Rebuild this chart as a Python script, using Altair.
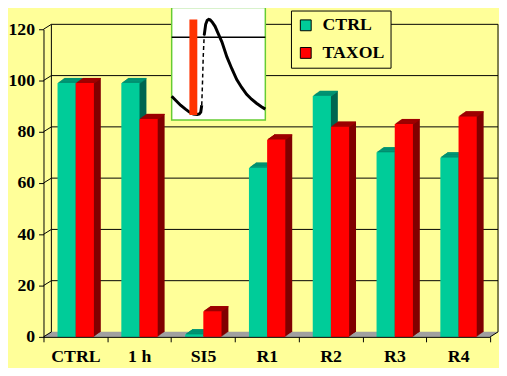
import altair as alt
import pandas as pd

# ---------------- data ----------------
categories = ["CTRL", "1 h", "SI5", "R1", "R2", "R3", "R4"]
series_names = ["CTRL", "TAXOL"]
ctrl_values = [99, 99, 1, 66, 94, 72, 70]
taxol_values = [99, 85, 10, 77, 82, 83, 86]
y_ticks = [0, 20, 40, 60, 80, 100, 120]

# inset trace (inset-local units, y downwards)
trace_a_x = [0, 4, 9, 14, 18, 22, 26, 28, 29.5, 30.5]
trace_a_y = [90, 94, 99, 103, 106, 108, 108.5, 108, 106, 99]
trace_dash_x = [30.5, 31.3, 32, 33]
trace_dash_y = [99, 75, 50, 28]
trace_b_x = [33, 34.5, 36, 37.5, 39, 41, 44, 47, 51, 56, 61, 66, 71, 76, 81, 86, 91, 95]
trace_b_y = [28, 17, 13, 12, 12.5, 14.5, 19, 26, 35, 50, 62, 73, 81, 88, 93, 97, 100.5, 103]
inset_frame = [0, 95, 0, 114]
inset_baseline = 30
stim_bar = [18, 26, 12, 109]

# ---------------- styling ----------------
W, H = 453, 312
BG = "#FFFF99"
front_colors = ["#00CC99", "#FF0000"]
side_colors = ["#006650", "#800000"]
top_colors = ["#009977", "#A00000"]
FONT = "Liberation Serif"
WALL_DX, WALL_DY = 8, 5
BAR_STEPS = 7
BAR_DY = 5 / 7
YMAX = 120

ncat = len(categories)
xs = alt.Scale(domain=[0, ncat], nice=False, zero=False)
ys = alt.Scale(domain=[0, YMAX], nice=False)

label_expr = "''"
for i in range(ncat - 1, -1, -1):
    label_expr = "datum.value == %d ? '%s' : (%s)" % (i, categories[i], label_expr)

x_axis = alt.Axis(values=list(range(ncat + 1)), labelExpr=label_expr,
                  labelOffset=W / ncat / 2, labelPadding=6, labelFlush=False,
                  labelOverlap=False, title=None, zindex=1)
y_axis = alt.Axis(values=y_ticks, labelPadding=4, title=None, zindex=1)


def X(f):
    return alt.X(f, type="quantitative", scale=xs, axis=x_axis)


def Y(f):
    return alt.Y(f, type="quantitative", scale=ys, axis=y_axis)


rows = []
for i, c in enumerate(categories):
    for s, vals, off in (("CTRL", ctrl_values, 0.22), ("TAXOL", taxol_values, 0.505)):
        rows.append(dict(cat=c, series=s, x0=i + off, x1=i + off + 0.285, base=0, value=vals[i]))
bars = pd.DataFrame(rows)

grid_df = pd.DataFrame({"v": y_ticks, "xa": 0, "xb": ncat})
vert_df = pd.DataFrame({"xp": [0, ncat], "ya": 0, "yb": YMAX})
floor_df = pd.DataFrame({"xa": [0], "xb": [ncat], "v": [0]})

layers = []

# guide carrier (axes + legend), invisible
layers.append(
    alt.Chart(bars).mark_rect(opacity=0)
    .encode(
        x=X("x0"), x2="x1:Q", y=Y("base"), y2="value:Q",
        color=alt.Color("series:N", scale=alt.Scale(domain=series_names, range=front_colors),
                        legend=alt.Legend(title=None, orient="none", legendX=251, legendY=-19,
                                          direction="vertical", symbolType="square",
                                          symbolSize=121, symbolStrokeColor="black",
                                          symbolStrokeWidth=1, symbolOpacity=1,
                                          labelFont=FONT, labelFontWeight="bold",
                                          labelFontSize=18, labelColor="black",
                                          labelOffset=8, padding=6, rowPadding=10,
                                          fillColor=BG, strokeColor="black")),
    )
)

# floor (gray parallelogram built from thin slices)
for k in range(WALL_DY):
    t = k + 0.5
    layers.append(
        alt.Chart(floor_df).mark_rule(color="#A0A0A0", strokeWidth=1.3,
                                      xOffset=t * WALL_DX / WALL_DY, x2Offset=t * WALL_DX / WALL_DY,
                                      yOffset=-t, y2Offset=-t)
        .encode(x=X("xa"), x2="xb:Q", y=Y("v"))
    )

# back wall gridlines
layers.append(
    alt.Chart(grid_df[grid_df.v > 0]).mark_rule(color="black", strokeWidth=1,
                                                xOffset=WALL_DX, x2Offset=WALL_DX,
                                                yOffset=-WALL_DY, y2Offset=-WALL_DY)
    .encode(x=X("xa"), x2="xb:Q", y=Y("v"))
)
# back wall verticals
layers.append(
    alt.Chart(vert_df).mark_rule(color="black", strokeWidth=1,
                                 xOffset=WALL_DX, yOffset=-WALL_DY, y2Offset=-WALL_DY)
    .encode(x=X("xp"), y=Y("ya"), y2="yb:Q")
)
# left wall diagonals
layers.append(
    alt.Chart(grid_df).mark_rule(color="black", strokeWidth=1,
                                 x2Offset=WALL_DX, y2Offset=-WALL_DY)
    .encode(x=X("xa"), x2="xa:Q", y=Y("v"), y2="v:Q")
)
# right floor diagonal
layers.append(
    alt.Chart(floor_df).mark_rule(color="black", strokeWidth=1,
                                  x2Offset=WALL_DX, y2Offset=-WALL_DY)
    .encode(x=X("xb"), x2="xb:Q", y=Y("v"), y2="v:Q")
)

# 3-D extrusion of the bars, back to front
for k in range(BAR_STEPS, 0, -1):
    dx = k * 1.0
    dy = k * BAR_DY
    ty = (k - 0.5) * BAR_DY
    for j, s in enumerate(series_names):
        layers.append(
            alt.Chart(bars).transform_filter(alt.datum.series == s)
            .mark_rect(color=side_colors[j], xOffset=dx, x2Offset=dx, yOffset=-dy, y2Offset=-dy)
            .encode(x=X("x0"), x2="x1:Q", y=Y("base"), y2="value:Q")
        )
    for j, s in enumerate(series_names):
        layers.append(
            alt.Chart(bars).transform_filter(alt.datum.series == s)
            .mark_rule(color=top_colors[j], strokeWidth=BAR_DY + 0.5, xOffset=dx, x2Offset=dx,
                       yOffset=-ty, y2Offset=-ty)
            .encode(x=X("x0"), x2="x1:Q", y=Y("value"))
        )

# front faces
for j, s in enumerate(series_names):
    layers.append(
        alt.Chart(bars).transform_filter(alt.datum.series == s)
        .mark_rect(color=front_colors[j])
        .encode(x=X("x0"), x2="x1:Q", y=Y("base"), y2="value:Q")
    )

# ---------------- inset (local units mapped into the main scales) ----------------
IX0, IY0 = 130, -22   # inset top-left inside the plot area
to_x = "(%f + datum.{f}) * %f" % (IX0, ncat / W)
to_y = "(%f - (%f + datum.{f})) * %f" % (H, IY0, YMAX / H)


def inset_chart(df, xf, yf):
    c = alt.Chart(df)
    for f in xf:
        c = c.transform_calculate(**{"m" + f: to_x.replace("{f}", f)})
    for f in yf:
        c = c.transform_calculate(**{"m" + f: to_y.replace("{f}", f)})
    return c


frame_df = pd.DataFrame({"x0": [inset_frame[0]], "x1": [inset_frame[1]],
                         "y0": [inset_frame[2]], "y1": [inset_frame[3]]})
base_df = pd.DataFrame({"x0": [inset_frame[0]], "x1": [inset_frame[1]], "y": [inset_baseline]})
stim_df = pd.DataFrame({"x0": [stim_bar[0]], "x1": [stim_bar[1]],
                        "y0": [stim_bar[2]], "y1": [stim_bar[3]]})
solid_df = pd.DataFrame({
    "x": trace_a_x + trace_b_x,
    "y": trace_a_y + trace_b_y,
    "seg": ["a"] * len(trace_a_x) + ["b"] * len(trace_b_x),
    "i": list(range(len(trace_a_x))) + list(range(len(trace_b_x))),
})
dash_df = pd.DataFrame({"x": trace_dash_x, "y": trace_dash_y, "i": range(len(trace_dash_x))})

layers += [
    inset_chart(frame_df, ["x0", "x1"], ["y0", "y1"])
    .mark_rect(fill="white", stroke="#66CC33", strokeWidth=1.5)
    .encode(x=X("mx0"), x2="mx1:Q", y=Y("my0"), y2="my1:Q"),
    inset_chart(base_df, ["x0", "x1"], ["y"])
    .mark_rule(color="black", strokeWidth=1.5)
    .encode(x=X("mx0"), x2="mx1:Q", y=Y("my")),
    inset_chart(solid_df, ["x"], ["y"])
    .mark_line(color="black", strokeWidth=3)
    .encode(x=X("mx"), y=Y("my"), detail="seg:N", order="i:Q"),
    inset_chart(dash_df, ["x"], ["y"])
    .mark_line(color="black", strokeWidth=1.5, strokeDash=[4, 3])
    .encode(x=X("mx"), y=Y("my"), order="i:Q"),
    inset_chart(stim_df, ["x0", "x1"], ["y0", "y1"])
    .mark_rect(fill="#FF3300")
    .encode(x=X("mx0"), x2="mx1:Q", y=Y("my0"), y2="my1:Q"),
]

chart = (
    alt.layer(*layers)
    .properties(width=W, height=H, background=BG,
                padding={"left": 36, "top": 19, "right": 9, "bottom": 29},
                autosize=alt.AutoSizeParams(type="none"))
    .configure_view(strokeWidth=0)
    .configure_axis(labelFont=FONT, labelFontWeight="bold", labelFontSize=18,
                    labelColor="black", domainColor="black", tickColor="black",
                    domainWidth=1, tickWidth=1, tickSize=5, grid=False)
)

chart.save("out.html", embed_options={"renderer": "svg", "actions": False})
